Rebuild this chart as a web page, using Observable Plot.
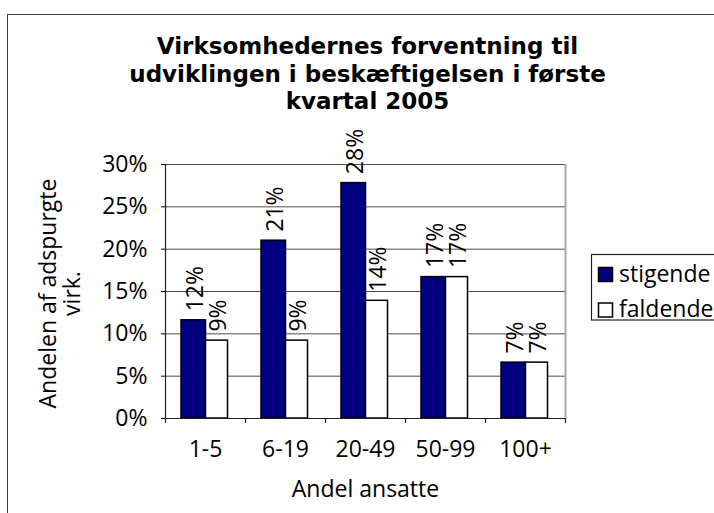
<!DOCTYPE html>
<html><head><meta charset="utf-8">
<script src="https://cdn.jsdelivr.net/npm/d3@7"></script>
<script src="https://cdn.jsdelivr.net/npm/@observablehq/plot@0.6"></script>
<style>
html,body{margin:0;padding:0;background:#fff;}
#wrap{position:relative;width:714px;height:513px;overflow:hidden;background:#fff;}
#border{position:absolute;left:7px;top:14px;width:900px;height:700px;border:1.5px solid #3a3a3a;box-sizing:border-box;}
#wrap svg{position:absolute;left:0;top:0;}
</style></head><body><div id="wrap"><div id="border"></div></div>
<script>
// ---- data ----
const categories = ["1-5", "6-19", "20-49", "50-99", "100+"];
const stigende = [0.116, 0.21, 0.278, 0.167, 0.066];
const faldende = [0.092, 0.092, 0.139, 0.167, 0.066];
const seriesNames = ["stigende", "faldende"];
const seriesColors = ["#000080", "#ffffff"];
const yTicks = [0, 0.05, 0.10, 0.15, 0.20, 0.25, 0.30];
const titleText = "Virksomhedernes forventning til\nudviklingen i beskæftigelsen i første\nkvartal 2005";
const yLabelLines = ["Andelen af adspurgte", "virk."];
const xLabel = "Andel ansatte";

// ---- build ----
const rowsS = categories.map((c, i) => ({cat: c, value: stigende[i]}));
const rowsF = categories.map((c, i) => ({cat: c, value: faldende[i]}));
const pct = d => Math.round(d.value * 100) + "%";
const FONT = "Open Sans";
const FS = 23;
const last = categories[categories.length - 1];

const chart = Plot.plot({
  width: 714, height: 513,
  marginLeft: 165, marginRight: 149, marginTop: 164, marginBottom: 95,
  x: {domain: categories, padding: 0, tickSize: 0, tickPadding: 22, label: null},
  y: {domain: [0, 0.3], ticks: yTicks, tickSize: 4, tickPadding: 14, tickFormat: d => Math.round(d * 100) + "%", label: null},
  style: {fontFamily: FONT, fontSize: FS + "px", background: "transparent", overflow: "visible", color: "#000"},
  marks: [
    Plot.ruleY(yTicks, {stroke: "#4d4d4d", strokeWidth: 1}),
    Plot.ruleX([last], {x: d => d, dx: 40, stroke: "#a6a6a6", strokeWidth: 2}),
    Plot.barY(rowsS, {x: "cat", y: "value", fill: seriesColors[0], stroke: "#000", strokeWidth: 1.5, insetLeft: 16, insetRight: 39.5}),
    Plot.barY(rowsF, {x: "cat", y: "value", fill: seriesColors[1], stroke: "#000", strokeWidth: 1.5, insetLeft: 40.5, insetRight: 17.5}),
    Plot.ruleY([0], {stroke: "#222", strokeWidth: 1.2}),
    Plot.ruleX([categories[0]], {x: d => d, dx: -40, stroke: "#222", strokeWidth: 1.2}),
    Plot.ruleX(categories, {x: d => d, dx: -40, y1: 0, y2: 0, insetBottom: -5, stroke: "#222", strokeWidth: 1.2}),
    Plot.ruleX([last], {x: d => d, dx: 40, y1: 0, y2: 0, insetBottom: -5, stroke: "#222", strokeWidth: 1.2}),
    Plot.text(rowsS, {x: "cat", y: "value", text: pct, rotate: -90, textAnchor: "start", lineAnchor: "middle", dx: -10, dy: -9, fontSize: FS}),
    Plot.text(rowsF, {x: "cat", y: "value", text: pct, rotate: -90, textAnchor: "start", lineAnchor: "middle", dx: 13, dy: -9, fontSize: FS}),
    Plot.text([titleText], {frameAnchor: "top", text: d => d, textAnchor: "middle", lineAnchor: "top", lineHeight: 1.2, dy: -130, dx: 2, fontSize: 23, fontWeight: "bold", fontFamily: "DejaVu Sans"}),
    Plot.text([yLabelLines[0]], {frameAnchor: "left", text: d => d, rotate: -90, textAnchor: "middle", lineAnchor: "middle", dx: -116.4, dy: 2, fontSize: FS}),
    Plot.text([yLabelLines[1]], {frameAnchor: "left", text: d => d, rotate: -90, textAnchor: "middle", lineAnchor: "middle", dx: -92.4, dy: 2, fontSize: FS}),
    Plot.text([xLabel], {frameAnchor: "bottom", text: d => d, textAnchor: "middle", lineAnchor: "top", dy: 62, fontSize: FS})
  ]
});
document.getElementById("wrap").appendChild(chart);

// ---- legend ----
const leg = d3.select("#wrap").append("svg").attr("width", 714).attr("height", 513)
  .style("font-family", FONT).style("font-size", FS + "px");
leg.append("rect").attr("x", 591.5).attr("y", 254.5).attr("width", 200).attr("height", 65.5)
  .attr("fill", "#fff").attr("stroke", "#222").attr("stroke-width", 1.2);
seriesNames.forEach((name, i) => {
  const g = leg.append("g").attr("transform", `translate(598.5,${267.5 + i * 35.5})`);
  g.append("rect").attr("width", 14).attr("height", 14).attr("fill", seriesColors[i]).attr("stroke", "#000").attr("stroke-width", 1.5);
  g.append("text").attr("x", 20.5).attr("y", 14.2).attr("fill", "#000").text(name);
});
</script>
</body></html>
